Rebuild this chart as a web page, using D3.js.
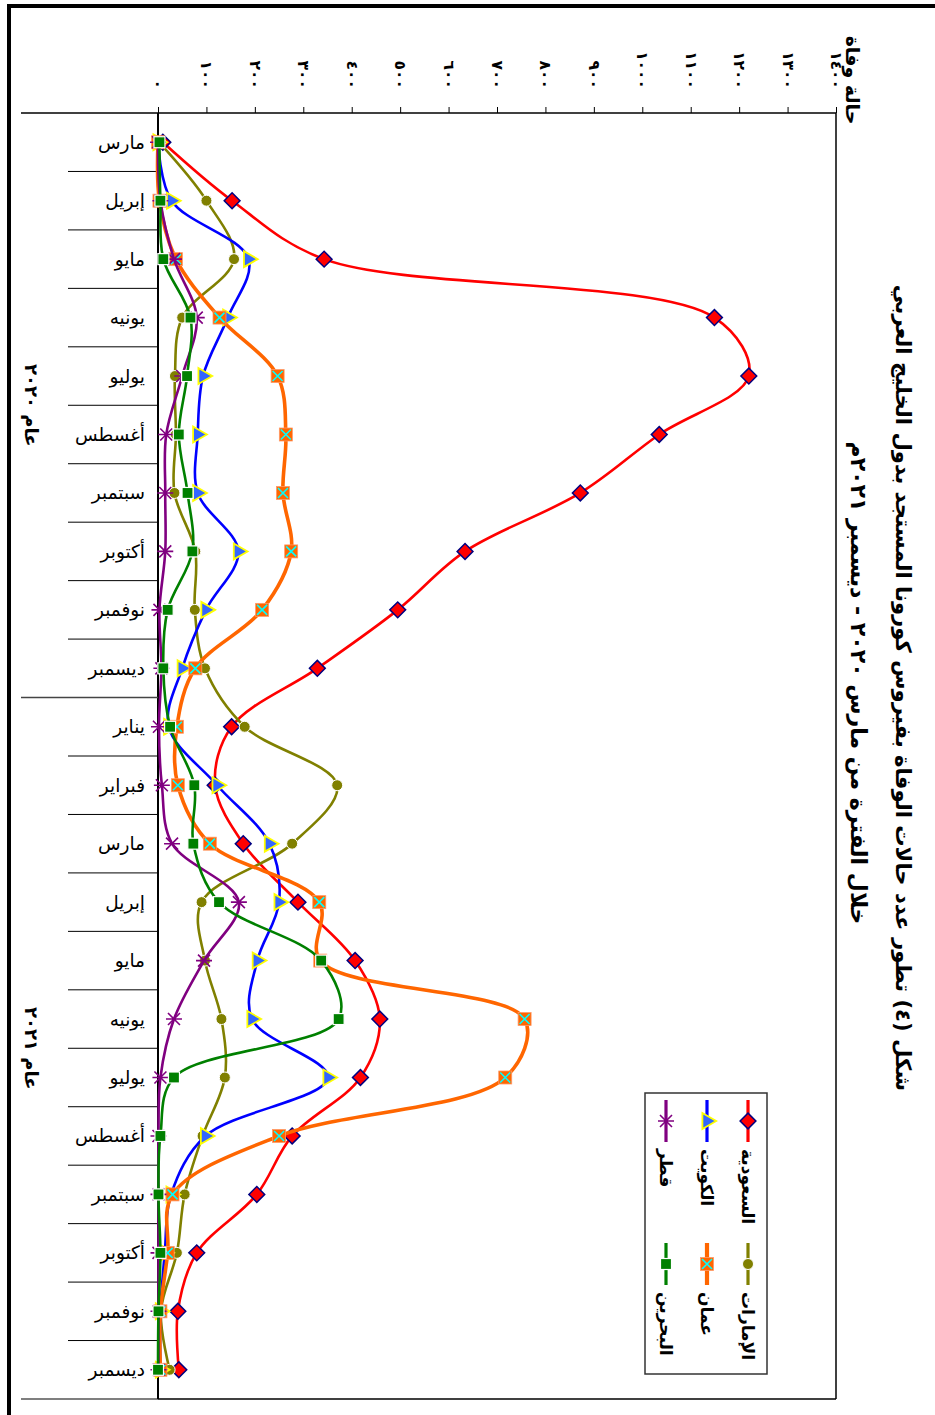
<!DOCTYPE html>
<html>
<head>
<meta charset="utf-8">
<script src="https://cdn.jsdelivr.net/npm/d3@7/dist/d3.min.js"></script>
<style>
  body { margin: 0; background: #fff; }
  svg { display: block; }
  text { font-family: "DejaVu Sans", sans-serif; fill: #000; }
</style>
</head>
<body>
<svg id="chart" width="935" height="1415"></svg>
<script>
// Months on the category axis (Mar 2020 – Dec 2021)
const months2020 = ["مارس", "إبريل", "مايو", "يونيه", "يوليو", "أغسطس", "سبتمبر", "أكتوبر", "نوفمبر", "ديسمبر"];
const months2021 = ["يناير", "فبراير", "مارس", "إبريل", "مايو", "يونيه", "يوليو", "أغسطس", "سبتمبر", "أكتوبر", "نوفمبر", "ديسمبر"];
const categories = months2020.concat(months2021);
const yearLabels = ["عام ٢٠٢٠", "عام ٢٠٢١"];

// Value axis ticks (deaths)
const valueTicks = [0, 100, 200, 300, 400, 500, 600, 700, 800, 900, 1000, 1100, 1200, 1300, 1400];

// Monthly deaths per country
const saudi   = [10, 153, 343, 1149, 1220, 1035, 872, 634, 495, 329, 152, 118, 176, 289, 407, 458, 418, 277, 204, 80, 41, 43];
const uae     = [2, 100, 157, 50, 35, 37, 34, 77, 76, 97, 179, 370, 277, 90, 97, 131, 138, 92, 55, 39, 6, 24];
const kuwait  = [0, 28, 187, 144, 93, 82, 82, 166, 99, 50, 22, 122, 230, 250, 205, 194, 351, 98, 27, 14, 5, 5];
const oman    = [0, 3, 37, 127, 247, 264, 258, 275, 215, 77, 39, 41, 107, 333, 335, 757, 717, 250, 30, 20, 5, 5];
const qatar   = [0, 5, 33, 80, 50, 17, 15, 15, 3, 7, 2, 8, 29, 167, 95, 33, 5, 1, 1, 1, 1, 1];
const bahrain = [3, 5, 11, 67, 60, 43, 61, 71, 20, 11, 25, 75, 73, 126, 337, 373, 33, 5, 1, 5, 1, 0];

const seriesNames = ["السعودية", "الإمارات", "الكويت", "عمان", "قطر", "البحرين"];
const seriesValues = [saudi, uae, kuwait, oman, qatar, bahrain];

const titleLines = [
  "شكل (٤) تطور عدد حالات الوفاة بفيروس كورونا المستجد بدول الخليج العربي",
  "خلال الفترة من مارس ٢٠٢٠ - ديسمبر ٢٠٢١م"
];
const valueAxisTitle = "حالة وفاة";

// Series styling
const styles = [
  { line: "#FF0000", width: 2.6, marker: "diamond" },
  { line: "#808000", width: 2.6, marker: "circle" },
  { line: "#0000FF", width: 2.6, marker: "triangle" },
  { line: "#FF6600", width: 3.6, marker: "xsquare" },
  { line: "#800080", width: 2.6, marker: "star" },
  { line: "#008000", width: 2.6, marker: "square" }
];

const toArabicDigits = s => String(s).replace(/\d/g, d => "٠١٢٣٤٥٦٧٨٩"[+d]);

const svg = d3.select("#chart");

// The chart lies on its side: values run left→right, months top→bottom
const plot = { left: 158, right: 836, top: 113, bottom: 1399 };
const x = d3.scaleLinear().domain([0, 1400]).range([plot.left, plot.right]);
const y = d3.scalePoint().domain(d3.range(categories.length)).range([plot.top, plot.bottom]).padding(0.5);
const step = y.step();

// Page frame
svg.append("line").attr("x1", 9).attr("x2", 9).attr("y1", 4).attr("y2", 1415)
  .attr("stroke", "#000").attr("stroke-width", 4);
svg.append("line").attr("x1", 7).attr("x2", 935).attr("y1", 6).attr("y2", 6)
  .attr("stroke", "#000").attr("stroke-width", 4);

// Plot area border
const border = svg.append("g").attr("stroke", "#000").attr("stroke-width", 1.5).attr("fill", "none");
border.append("line").attr("x1", 21).attr("x2", plot.right).attr("y1", plot.top).attr("y2", plot.top);
border.append("line").attr("x1", plot.right).attr("x2", plot.right).attr("y1", plot.top).attr("y2", plot.bottom);
border.append("line").attr("x1", plot.left).attr("x2", plot.right).attr("y1", plot.bottom).attr("y2", plot.bottom);
border.append("line").attr("x1", 21).attr("x2", plot.left).attr("y1", plot.bottom).attr("y2", plot.bottom).attr("stroke", "#555");
border.append("line").attr("x1", plot.left).attr("x2", plot.left).attr("y1", plot.top).attr("y2", plot.bottom).attr("stroke-width", 2);

// Category separators between months and between years
const yearBreak = months2020.length;
const sep = svg.append("g").attr("stroke", "#000").attr("stroke-width", 1);
for (let i = 1; i < categories.length; i++) {
  const yy = y(i) - step / 2;
  if (i === yearBreak) {
    sep.append("line").attr("x1", 21).attr("x2", plot.left).attr("y1", yy).attr("y2", yy)
      .attr("stroke", "#444").attr("stroke-width", 1.5);
  } else {
    sep.append("line").attr("x1", 68).attr("x2", plot.left).attr("y1", yy).attr("y2", yy);
  }
}

// Month labels
svg.append("g").selectAll("text").data(categories).join("text")
  .attr("x", 145).attr("y", (d, i) => y(i)).attr("dy", "0.35em")
  .attr("text-anchor", "end").attr("font-size", 18.5)
  .text(d => d);

// Year labels, centred on each year's span
[[0, yearBreak - 1], [yearBreak, categories.length - 1]].forEach((r, k) => {
  const cy = (y(r[0]) + y(r[1])) / 2;
  svg.append("text")
    .attr("transform", `translate(31,${cy}) rotate(90)`)
    .attr("dy", "0.35em").attr("text-anchor", "middle")
    .attr("font-size", 18).attr("font-weight", "bold")
    .text(yearLabels[k]);
});

// Value axis along the top edge
const axis = d3.axisTop(x).tickValues(valueTicks).tickSize(6).tickSizeOuter(0)
  .tickFormat(toArabicDigits);
const ag = svg.append("g").attr("transform", `translate(0,${plot.top})`).call(axis);
ag.select(".domain").remove();
ag.selectAll(".tick line").attr("stroke", "#000").attr("stroke-width", 1);
ag.selectAll(".tick text")
  .attr("y", null).attr("dy", "0.35em")
  .attr("transform", "translate(0,-24) rotate(90)")
  .attr("text-anchor", "end")
  .attr("font-size", 15.5).attr("font-weight", "bold")
  .attr("font-family", "DejaVu Sans, sans-serif")
  .attr("fill", "#000");

// Value axis title
svg.append("text")
  .attr("transform", "translate(853,80) rotate(90)")
  .attr("dy", "0.35em").attr("text-anchor", "middle")
  .attr("font-size", 19).attr("font-weight", "bold")
  .text(valueAxisTitle);

// Chart title (two lines)
svg.append("text")
  .attr("transform", "translate(903,688) rotate(90)")
  .attr("dy", "0.35em").attr("text-anchor", "middle")
  .attr("font-size", 21.2).attr("font-weight", "bold")
  .text(titleLines[0]);
svg.append("text")
  .attr("transform", "translate(859,683) rotate(90)")
  .attr("dy", "0.35em").attr("text-anchor", "middle")
  .attr("font-size", 22).attr("font-weight", "bold")
  .text(titleLines[1]);

// Marker painter
function drawMarker(g, type, cx, cy) {
  const m = g.append("g").attr("transform", `translate(${cx},${cy})`);
  if (type === "diamond") {
    m.append("path").attr("d", d3.symbol(d3.symbolSquare, 125)())
      .attr("transform", "rotate(45)")
      .attr("fill", "#FF0000").attr("stroke", "#000080").attr("stroke-width", 1.5);
  } else if (type === "circle") {
    m.append("circle").attr("r", 5.5)
      .attr("fill", "#808000").attr("stroke", "#fff").attr("stroke-width", 1);
  } else if (type === "triangle") {
    m.append("path").attr("d", d3.symbol(d3.symbolTriangle, 110)())
      .attr("transform", "rotate(90)")
      .attr("fill", "#3366FF").attr("stroke", "#FFFF00").attr("stroke-width", 1.8);
  } else if (type === "xsquare") {
    m.append("rect").attr("x", -6.5).attr("y", -6.5).attr("width", 13).attr("height", 13)
      .attr("fill", "#FF6600").attr("stroke", "#FF9966").attr("stroke-width", 0.8);
    m.append("path").attr("d", "M-5,-5L5,5M-5,5L5,-5")
      .attr("stroke", "#00FFFF").attr("stroke-width", 1.6);
  } else if (type === "square") {
    m.append("rect").attr("x", -5.5).attr("y", -5.5).attr("width", 11).attr("height", 11)
      .attr("fill", "#008000").attr("stroke", "#fff").attr("stroke-width", 1.2);
  } else if (type === "star") {
    m.append("path").attr("d", "M-8,0L8,0M-6,-6L6,6M-6,6L6,-6")
      .attr("stroke", "#800080").attr("stroke-width", 1.6);
  }
}

// Smoothed series lines with markers
const lineGen = d3.line()
  .x(d => x(d.v)).y(d => y(d.i))
  .curve(d3.curveCatmullRom.alpha(0.5));

const seriesG = svg.append("g");
seriesValues.forEach((vals, s) => {
  const pts = vals.map((v, i) => ({ v, i }));
  const g = seriesG.append("g");
  g.append("path").datum(pts).attr("d", lineGen)
    .attr("fill", "none").attr("stroke", styles[s].line)
    .attr("stroke-width", styles[s].width)
    .attr("stroke-linejoin", "round").attr("stroke-linecap", "round");
  pts.forEach(p => drawMarker(g, styles[s].marker, x(p.v), y(p.i)));
});

// Legend: three rows of two entries, turned with the chart
const legend = svg.append("g");
legend.append("rect").attr("x", 645).attr("y", 1093).attr("width", 122).attr("height", 281)
  .attr("fill", "#fff").attr("stroke", "#333").attr("stroke-width", 1.5);
const rowX = [748, 707, 666];
const colY = [1100, 1243];
seriesNames.forEach((name, s) => {
  const lx = rowX[Math.floor(s / 2)];
  const ly = colY[s % 2];
  legend.append("line").attr("x1", lx).attr("x2", lx).attr("y1", ly).attr("y2", ly + 42)
    .attr("stroke", styles[s].line).attr("stroke-width", styles[s].width + 0.6);
  drawMarker(legend, styles[s].marker, lx, ly + 21);
  legend.append("text")
    .attr("transform", `translate(${lx},${ly + 49}) rotate(90)`)
    .attr("dy", "0.35em").attr("text-anchor", "start")
    .attr("font-size", 17).attr("font-weight", "bold")
    .text(name);
});
</script>
</body>
</html>
